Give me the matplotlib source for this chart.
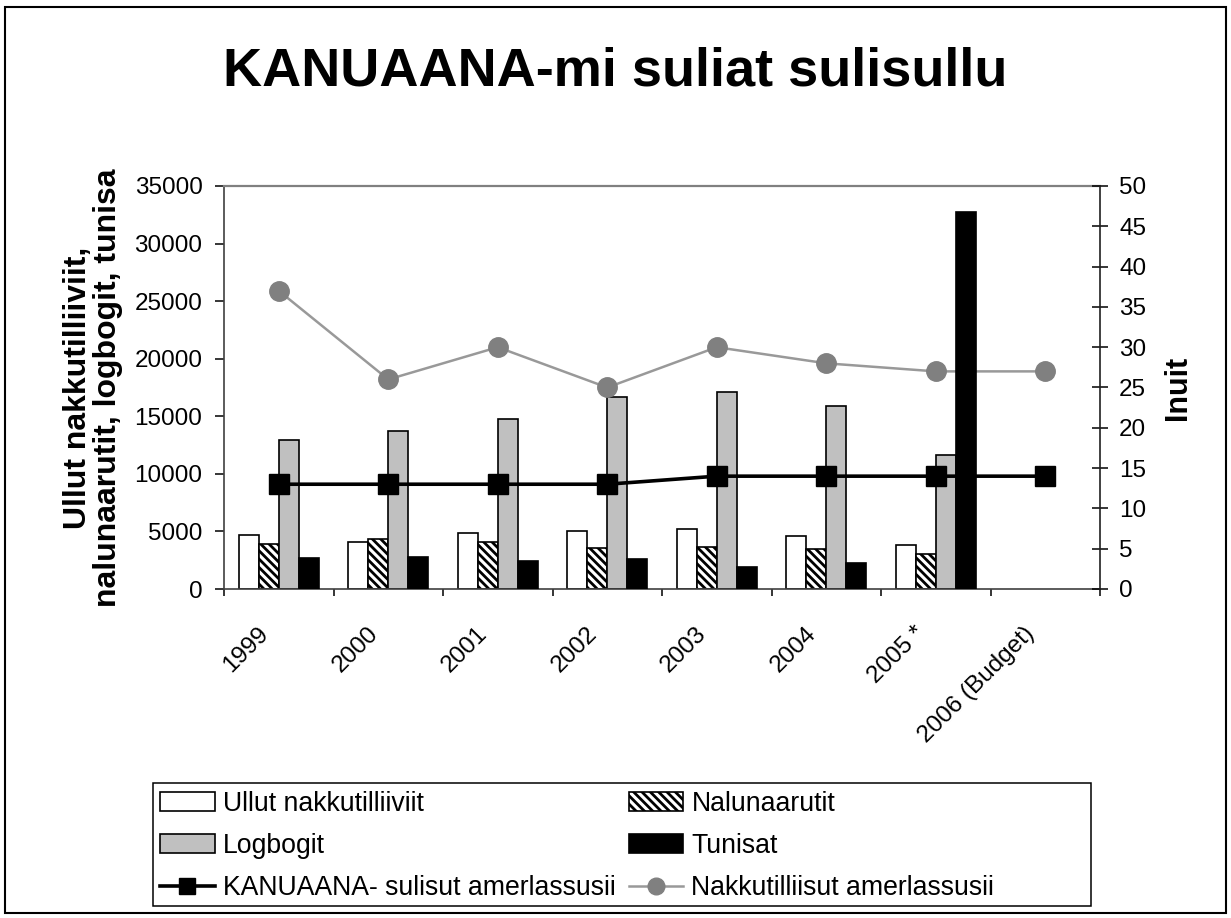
import numpy as np
import matplotlib
matplotlib.use('Agg')
import matplotlib.pyplot as plt
import matplotlib.transforms as mtransforms
from matplotlib.patches import Patch, Rectangle
from matplotlib.lines import Line2D

# ------------------------------------------------------------------------------
# Data
# ------------------------------------------------------------------------------
years = ['1999', '2000', '2001', '2002', '2003', '2004', '2005 *',
         '2006 (Budget)']

# bar series (left axis), no bars for 2006
ullut = [4700, 4050, 4850, 5050, 5200, 4600, 3800]
nalunaarutit = [3900, 4300, 4100, 3600, 3650, 3450, 3000]
logbogit = [12950, 13700, 14750, 16650, 17150, 15850, 11650]
tunisat = [2650, 2800, 2450, 2600, 1900, 2300, 32700]

# line series (right axis)
kanuaana = [13, 13, 13, 13, 14, 14, 14, 14]
nakkut = [37, 26, 30, 25, 30, 28, 27, 27]

lbl_bars = ['Ullut nakkutilliiviit', 'Nalunaarutit', 'Logbogit', 'Tunisat']
lbl_lines = ['KANUAANA- sulisut amerlassusii', 'Nakkutilliisut amerlassusii']

# ------------------------------------------------------------------------------
# Figure
# ------------------------------------------------------------------------------
plt.rcParams['font.family'] = ['Liberation Sans', 'DejaVu Sans']
plt.rcParams['hatch.linewidth'] = 2.0

W, H = 1231, 918
HATCH = '\\\\\\\\'
fig = plt.figure(figsize=(W / 100, H / 100), dpi=100)
ax = fig.add_axes([224 / W, 1 - 589 / H, (1100 - 224) / W, (589 - 186) / H])
ax2 = ax.twinx()

x = np.arange(len(years))
xb = x[:len(ullut)]
bw = 0.183

ax.bar(xb - 1.5 * bw, ullut, bw, facecolor='white', edgecolor='black',
       lw=1.2, zorder=2)
ax.bar(xb - 0.5 * bw, nalunaarutit, bw, facecolor='white',
       edgecolor='black', hatch=HATCH, lw=1.2, zorder=2)
ax.bar(xb + 0.5 * bw, logbogit, bw, facecolor='#c0c0c0', edgecolor='black',
       lw=1.2, zorder=2)

# line series on the right axis
ax2.plot(x, nakkut, color='#999999', lw=1.8, marker='o', ms=14,
         mfc='#808080', mec='#808080', zorder=2)
ax2.plot(x, kanuaana, color='black', lw=2.6, marker='s', ms=14,
         mfc='black', mec='black', zorder=2)
# Tunisat bars drawn above the lines, in left-axis units
ax2.bar(xb + 1.5 * bw, tunisat, bw, facecolor='black', edgecolor='black',
        lw=1.2, zorder=3, transform=ax.transData)

ax.set_xlim(-0.5, len(years) - 0.5)
ax.set_ylim(0, 35000)
ax2.set_ylim(0, 50)
ax.set_yticks(np.arange(0, 35001, 5000))
ax2.set_yticks(np.arange(0, 51, 5))

ax.set_xticks(x)
ax.set_xticklabels(years, rotation=45, ha='right', va='top', fontsize=17.5)
ax.set_xticks(np.arange(-0.5, len(years)), minor=True)
ax.tick_params(axis='x', which='major', length=0, pad=24)
ax.tick_params(axis='x', which='minor', length=5, width=1.1, direction='out')
off = mtransforms.ScaledTranslation(-6 / 100, 0, fig.dpi_scale_trans)
for t in ax.get_xticklabels():
    t.set_transform(t.get_transform() + off)

ax.tick_params(axis='y', labelsize=17.5, length=6.5, width=1.1, pad=9)
ax2.tick_params(axis='y', labelsize=17.5, length=11.5, width=1.1,
                direction='inout', pad=8)

for s in ['left', 'bottom']:
    ax.spines[s].set_color('#404040')
    ax.spines[s].set_linewidth(1.2)
ax.spines['top'].set_color('#808080')
ax.spines['top'].set_linewidth(1.6)
ax.spines['right'].set_visible(False)
for s in ['left', 'bottom', 'top']:
    ax2.spines[s].set_visible(False)
ax2.spines['right'].set_color('#202020')
ax2.spines['right'].set_linewidth(1.2)

ax.set_ylabel('Ullut nakkutilliiviit,\nnalunaarutit, logbogit, tunisa',
              fontsize=23, fontweight='bold', labelpad=8, linespacing=1.0)
ax2.set_ylabel('Inuit', fontsize=22, fontweight='bold', labelpad=12)

fig.text(0.5, 1 - 71 / H, 'KANUAANA-mi suliat sulisullu', ha='center',
         va='center', fontsize=39, fontweight='bold')

# ------------------------------------------------------------------------------
# Legend (rows: Ullut/Nalunaarutit, Logbogit/Tunisat, lines)
# ------------------------------------------------------------------------------
h_ull = Patch(facecolor='white', edgecolor='black', lw=1.2)
h_nal = Patch(facecolor='white', edgecolor='black', hatch=HATCH, lw=1.2)
h_log = Patch(facecolor='#c0c0c0', edgecolor='black', lw=1.2)
h_tun = Patch(facecolor='black', edgecolor='black', lw=1.2)
h_kan = Line2D([], [], color='black', lw=2.6, marker='s', ms=12)
h_nak = Line2D([], [], color='#999999', lw=1.8, marker='o', ms=12,
               mfc='#808080', mec='#808080')
handles = [h_ull, h_log, h_kan, h_nal, h_tun, h_nak]
labels = [lbl_bars[0], lbl_bars[2], lbl_lines[0],
          lbl_bars[1], lbl_bars[3], lbl_lines[1]]
fig.legend(handles, labels, ncol=2, loc='upper left',
           bbox_to_anchor=(160 / W, 1 - 791 / H), frameon=False,
           fontsize=19.2, borderpad=0, borderaxespad=0, handlelength=2.05,
           handletextpad=0.3, columnspacing=0.5, labelspacing=0.6,
           numpoints=1)
fig.patches.append(Rectangle((153 / W, 1 - 906 / H), (1091 - 153) / W,
                             (906 - 783) / H, transform=fig.transFigure,
                             fill=False, edgecolor='black', lw=1.1))

# outer border
fig.patches.append(Rectangle((5 / W, 1 - 913 / H), (1226 - 5) / W,
                             (913 - 7) / H, transform=fig.transFigure,
                             fill=False, edgecolor='black', lw=1.5))

plt.savefig('out.png', dpi=100)
